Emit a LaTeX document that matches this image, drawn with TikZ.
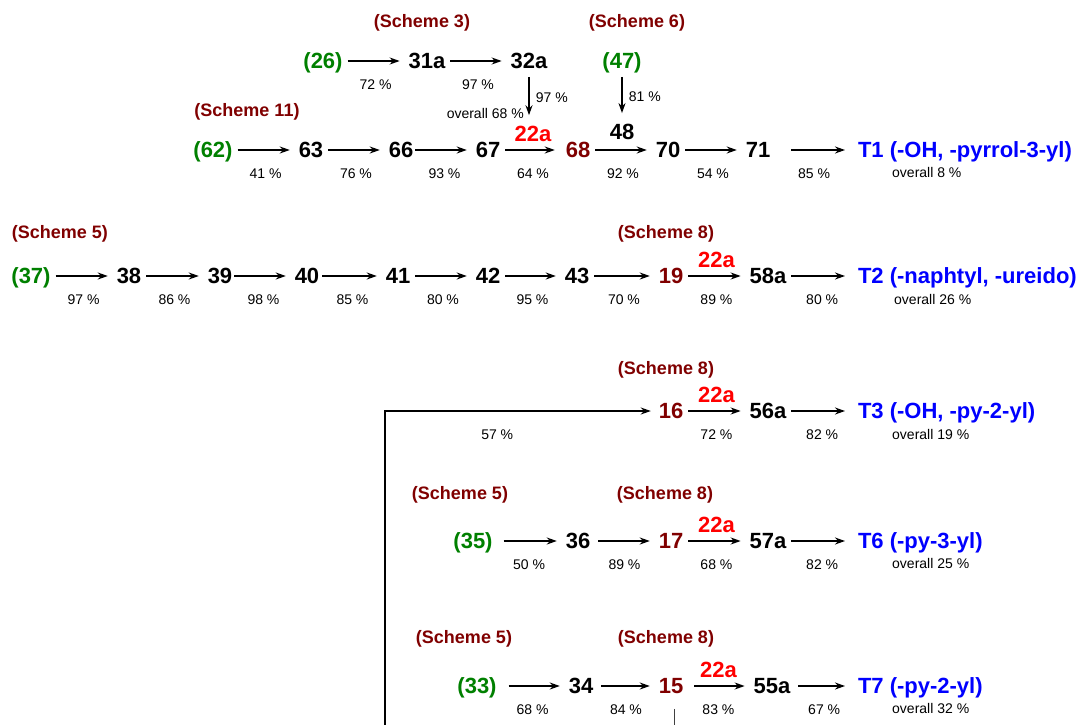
\documentclass[tikz,border=0pt]{standalone}
\usepackage{fontspec}
\setmainfont{Liberation Sans}
\usetikzlibrary{arrows.meta,calc}
\definecolor{cgreen}{RGB}{0,128,0}
\definecolor{cdred}{RGB}{128,0,0}
\definecolor{cblue}{RGB}{0,0,255}
\definecolor{cred}{RGB}{255,0,0}
\tikzset{
  cmpd/.style={font=\fontsize{22}{26}\selectfont\bfseries, inner sep=0pt, outer sep=0pt, text height=15.8pt, text depth=0pt},
  start/.style={cmpd, text=cgreen},
  key/.style={cmpd, text=cdred},
  tgt/.style={cmpd, text=cblue, anchor=west},
  scheme/.style={font=\fontsize{18}{22}\selectfont\bfseries, text=cdred, inner sep=0pt, text height=13pt, text depth=0pt},
  yl0/.style={font=\fontsize{14}{17}\selectfont, inner sep=0pt, text height=10pt, text depth=0pt},
  yl/.style={yl0, midway, below=18pt},
  ovl/.style={yl0, anchor=west},
  lab/.style={cmpd, text=cred, midway, above=9pt},
  rxn/.style={line width=1.6pt, -{Stealth[length=10pt,width=7pt]}, shorten <=5pt, shorten >=9pt},
  tarr/.style={rxn, shorten >=13pt},
  plainline/.style={line width=1.2pt},
  greyline/.style={line width=0.9pt, draw=black!75}
}
\begin{document}
\begin{tikzpicture}[x=1pt,y=-1pt]
\useasboundingbox (0,0) rectangle (1082,725);
% ---------- Row 0 ----------
\node[scheme] (s3) at (422,21) {(Scheme 3)};
\node[scheme] (s6) at (637,21) {(Scheme 6)};
\node[start] (n26) at (323,61) {(26)};
\node[cmpd] (n31a) at (427,61) {31a};
\node[cmpd] (n32a) at (529,61) {32a};
\node[start] (n47) at (622,61) {(47)};
\draw[rxn] (n26) -- node[yl]{72 \%} (n31a);
\draw[rxn] (n31a) -- node[yl]{97 \%} (n32a);
% ---------- Row 1 ----------
\node[scheme] (s11) at (247,110) {(Scheme 11)};
\node[start] (n62) at (213,150) {(62)};
\node[cmpd] (n63) at (311,150) {63};
\node[cmpd] (n66) at (401,150) {66};
\node[cmpd] (n67) at (488,150) {67};
\node[key] (n68) at (578,150) {68};
\node[cmpd] (n70) at (668,150) {70};
\node[cmpd] (n71) at (758,150) {71};
\node[tgt] (t1) at (858,150) {T1 (-OH, -pyrrol-3-yl)};
\node[ovl] (o1) at (892,172) {overall 8 \%};
\draw[rxn] (n62) -- node[yl]{41 \%} (n63);
\draw[rxn] (n63) -- node[yl]{76 \%} (n66);
\draw[rxn, shorten <=2pt] (n66) -- node[yl]{93 \%} (n67);
\draw[rxn, shorten >=11pt] (n67) -- node[lab] (a1) {22a} node[yl]{64 \%} (n68);
\node[cmpd] (n48) at (622,132) {48};
\draw[rxn] (n68) -- node[yl]{92 \%} (n70);
\draw[rxn] (n70) -- node[yl]{54 \%} (n71);
\draw[tarr, shorten <=21pt] (n71) -- node[yl]{85 \%} (t1);
\draw[rxn, shorten <=8pt, shorten >=10pt] (n32a) -- node[yl0, right=6pt]{97 \%} (n32a |- a1.north);
\draw[rxn, shorten <=8pt, shorten >=11pt] (n47) -- node[yl0, right=6pt]{81 \%} (n47 |- n48.north);
\node[yl0, anchor=east] (ov0) at (524,113) {overall 68 \%};
% ---------- Row 2 ----------
\node[scheme] (s5a) at (60,232) {(Scheme 5)};
\node[scheme] (s8a) at (666,232) {(Scheme 8)};
\node[start] (n37) at (31,276) {(37)};
\node[cmpd] (n38) at (129,276) {38};
\node[cmpd] (n39) at (220,276) {39};
\node[cmpd] (n40) at (307,276) {40};
\node[cmpd] (n41) at (398,276) {41};
\node[cmpd] (n42) at (488,276) {42};
\node[cmpd] (n43) at (577,276) {43};
\node[key] (n19) at (671,276) {19};
\node[cmpd] (n58a) at (768,276) {58a};
\node[tgt] (t2) at (858,276) {T2 (-naphtyl, -ureido)};
\node[ovl] (o2) at (894,299) {overall 26 \%};
\draw[rxn] (n37) -- node[yl]{97 \%} (n38);
\draw[rxn] (n38) -- node[yl]{86 \%} (n39);
\draw[rxn, shorten <=2pt] (n39) -- node[yl]{98 \%} (n40);
\draw[rxn, shorten <=3pt] (n40) -- node[yl]{85 \%} (n41);
\draw[rxn] (n41) -- node[yl]{80 \%} (n42);
\draw[rxn] (n42) -- node[yl]{95 \%} (n43);
\draw[rxn] (n43) -- node[yl]{70 \%} (n19);
\draw[rxn] (n19) -- node[lab] (a2) {22a} node[yl]{89 \%} (n58a);
\draw[tarr] (n58a) -- node[yl]{80 \%} (t2);
% ---------- Row 3 ----------
\node[scheme] (s8b) at (666,368) {(Scheme 8)};
\node[key] (n16) at (671,411) {16};
\node[cmpd] (n56a) at (768,411) {56a};
\node[tgt] (t3) at (858,411) {T3 (-OH, -py-2-yl)};
\node[ovl] (o3) at (892,434) {overall 19 \%};
\coordinate (cb) at (385,725);
\draw[plainline, -{Stealth[length=10pt,width=7pt]}, shorten >=8pt] (cb) |- node[yl0, pos=0.705, below=18pt]{57 \%} (n16);
\draw[rxn] (n16) -- node[lab] (a3) {22a} node[yl]{72 \%} (n56a);
\draw[tarr] (n56a) -- node[yl]{82 \%} (t3);
% ---------- Row 4 ----------
\node[scheme] (s5b) at (460,493) {(Scheme 5)};
\node[scheme] (s8c) at (665,493) {(Scheme 8)};
\node[start] (n35) at (473,541) {(35)};
\node[cmpd] (n36) at (578,541) {36};
\node[key] (n17) at (671,541) {17};
\node[cmpd] (n57a) at (768,541) {57a};
\node[tgt] (t6) at (858,541) {T6 (-py-3-yl)};
\node[ovl] (o6) at (892,563) {overall 25 \%};
\draw[rxn, shorten <=11pt] (n35) -- node[yl]{50 \%} (n36);
\draw[rxn, shorten <=8pt] (n36) -- node[yl]{89 \%} (n17);
\draw[rxn] (n17) -- node[lab] (a4) {22a} node[yl]{68 \%} (n57a);
\draw[tarr] (n57a) -- node[yl]{82 \%} (t6);
% ---------- Row 5 ----------
\node[scheme] (s5c) at (464,637) {(Scheme 5)};
\node[scheme] (s8d) at (666,637) {(Scheme 8)};
\node[start] (n33) at (477,686) {(33)};
\node[cmpd] (n34) at (581,686) {34};
\node[key] (n15) at (671,686) {15};
\node[cmpd] (n55a) at (772,686) {55a};
\node[tgt] (t7) at (858,686) {T7 (-py-2-yl)};
\node[ovl] (o7) at (892,708) {overall 32 \%};
\draw[rxn, shorten <=12pt] (n33) -- node[yl]{68 \%} (n34);
\draw[rxn, shorten <=8pt] (n34) -- node[yl]{84 \%} (n15);
\draw[rxn, shorten <=11pt] (n15) -- node[lab] (a5) {22a} node[yl]{83 \%} (n55a);
\draw[tarr, shorten <=8pt] (n55a) -- node[yl]{67 \%} (t7);
\coordinate (c15b) at (674,725);
\draw[greyline, shorten <=15pt] (n15.south -| c15b) -- (c15b);
\end{tikzpicture}
\end{document}
